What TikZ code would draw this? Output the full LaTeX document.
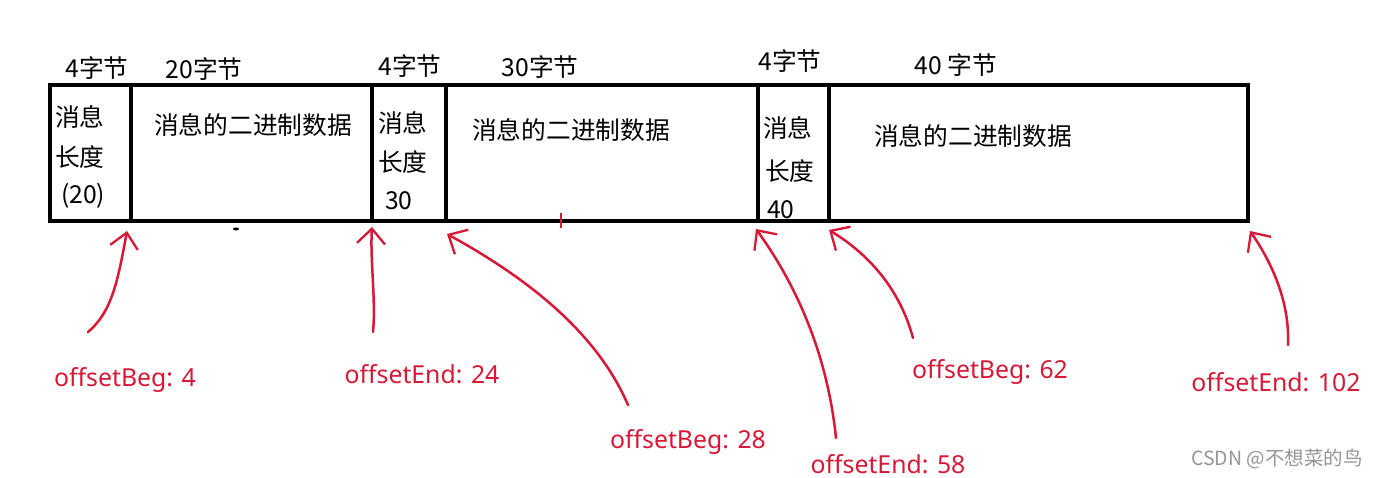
\documentclass[tikz,border=0pt]{standalone}
\usepackage{fontspec}
\setmainfont{Noto Sans}
\newfontfamily\cjk{Noto Sans CJK SC}
\usetikzlibrary{arrows.meta}
\definecolor{hred}{RGB}{215,25,55}
\definecolor{wm}{RGB}{150,150,150}
\tikzset{
  cn/.style={font=\cjk\fontsize{24.7}{28}\selectfont, inner sep=0pt, text=black},
  lbl/.style={font=\fontsize{24.8}{28}\selectfont, inner sep=0pt, text=hred},
  hand/.style={draw=hred, line width=2.5pt, line cap=round, line join=round,
    -{Straight Barb[length=15pt,width=28pt,line width=2.3pt]}},
  boxline/.style={line width=3.5pt}
}
\begin{document}
\begin{tikzpicture}[x=1pt,y=-1pt]
\useasboundingbox (0,0) rectangle (1378,478);
\fill[white] (0,0) rectangle (1378,478);
% box
\draw[boxline] (50,85) rectangle (1248,221);
\foreach \xx in {131,372,446,758,829}{\draw[boxline] (\xx,85) -- (\xx,221);}
% headers
\node[cn] (h1) at (97,68) {4字节};
\node[cn] (h2) at (204,69) {20字节};
\node[cn] (h3) at (410,66) {4字节};
\node[cn] (h4) at (540,67) {30字节};
\node[cn] (h5) at (790,61) {4字节};
\node[cn] (h6) at (956,65) {40 字节};
% cell texts
\node[cn,anchor=west] (a1) at (55,117) {消息};
\node[cn,anchor=west] (a2) at (55,157) {长度};
\node[cn,anchor=west] (a3) at (61,196) {(20)};
\node[cn] (d1) at (253,125) {消息的二进制数据};
\node[cn,anchor=west] (b1) at (378,123) {消息};
\node[cn,anchor=west] (b2) at (378,162) {长度};
\node[cn,anchor=west] (b3) at (385,201) {30};
\node[cn] (d2) at (571,130) {消息的二进制数据};
\node[cn,anchor=west] (c1) at (763,128) {消息};
\node[cn,anchor=west] (c2) at (765,171) {长度};
\node[cn,anchor=west] (c3) at (767,210) {40};
\node[cn] (d3) at (973,136) {消息的二进制数据};
% small marks
\draw[hred, line width=1.8pt] (561,213) -- (561,228);
\fill[black] (236,229) ellipse (3pt and 1.5pt);
% tip coordinates
\coordinate (t1) at (127,231);
\coordinate (t2) at (372,227);
\coordinate (t3) at (447,234);
\coordinate (t4) at (756,229);
\coordinate (t5) at (829,230);
\coordinate (t6) at (1250,231);
% tail coordinates
\coordinate (s1) at (88,332);
\coordinate (s2) at (373,332);
\coordinate (s3) at (628,405);
\coordinate (s4) at (836,438);
\coordinate (s5) at (913,338);
\coordinate (s6) at (1288,345);
% labels
\node[lbl] (l1) at (125,380) {offsetBeg: 4};
\node[lbl] (l2) at (422,374) {offsetEnd: 24};
\node[lbl] (l3) at (688,442) {offsetBeg: 28};
\node[lbl] (l4) at (888,464) {offsetEnd: 58};
\node[lbl] (l5) at (990,372) {offsetBeg: 62};
\node[lbl] (l6) at (1276,382) {offsetEnd: 102};
% arrows
\draw[hand] (s1) .. controls (112,312) and (118,280) .. (t1);
\draw[hand] (s2) .. controls (376,300) and (370,260) .. (t2);
\draw[hand] (s3) .. controls (600,340) and (540,285) .. (t3);
\draw[hand] (s4) .. controls (828,360) and (800,290) .. (t4);
\draw[hand] (s5) .. controls (900,290) and (870,255) .. (t5);
\draw[hand] (s6) .. controls (1290,300) and (1270,260) .. (t6);
% watermark
\node[font=\cjk\fontsize{19.5}{22}\selectfont, text=wm, inner sep=0pt] (w) at (1277,459) {CSDN @不想菜的鸟};
\end{tikzpicture}
\end{document}
